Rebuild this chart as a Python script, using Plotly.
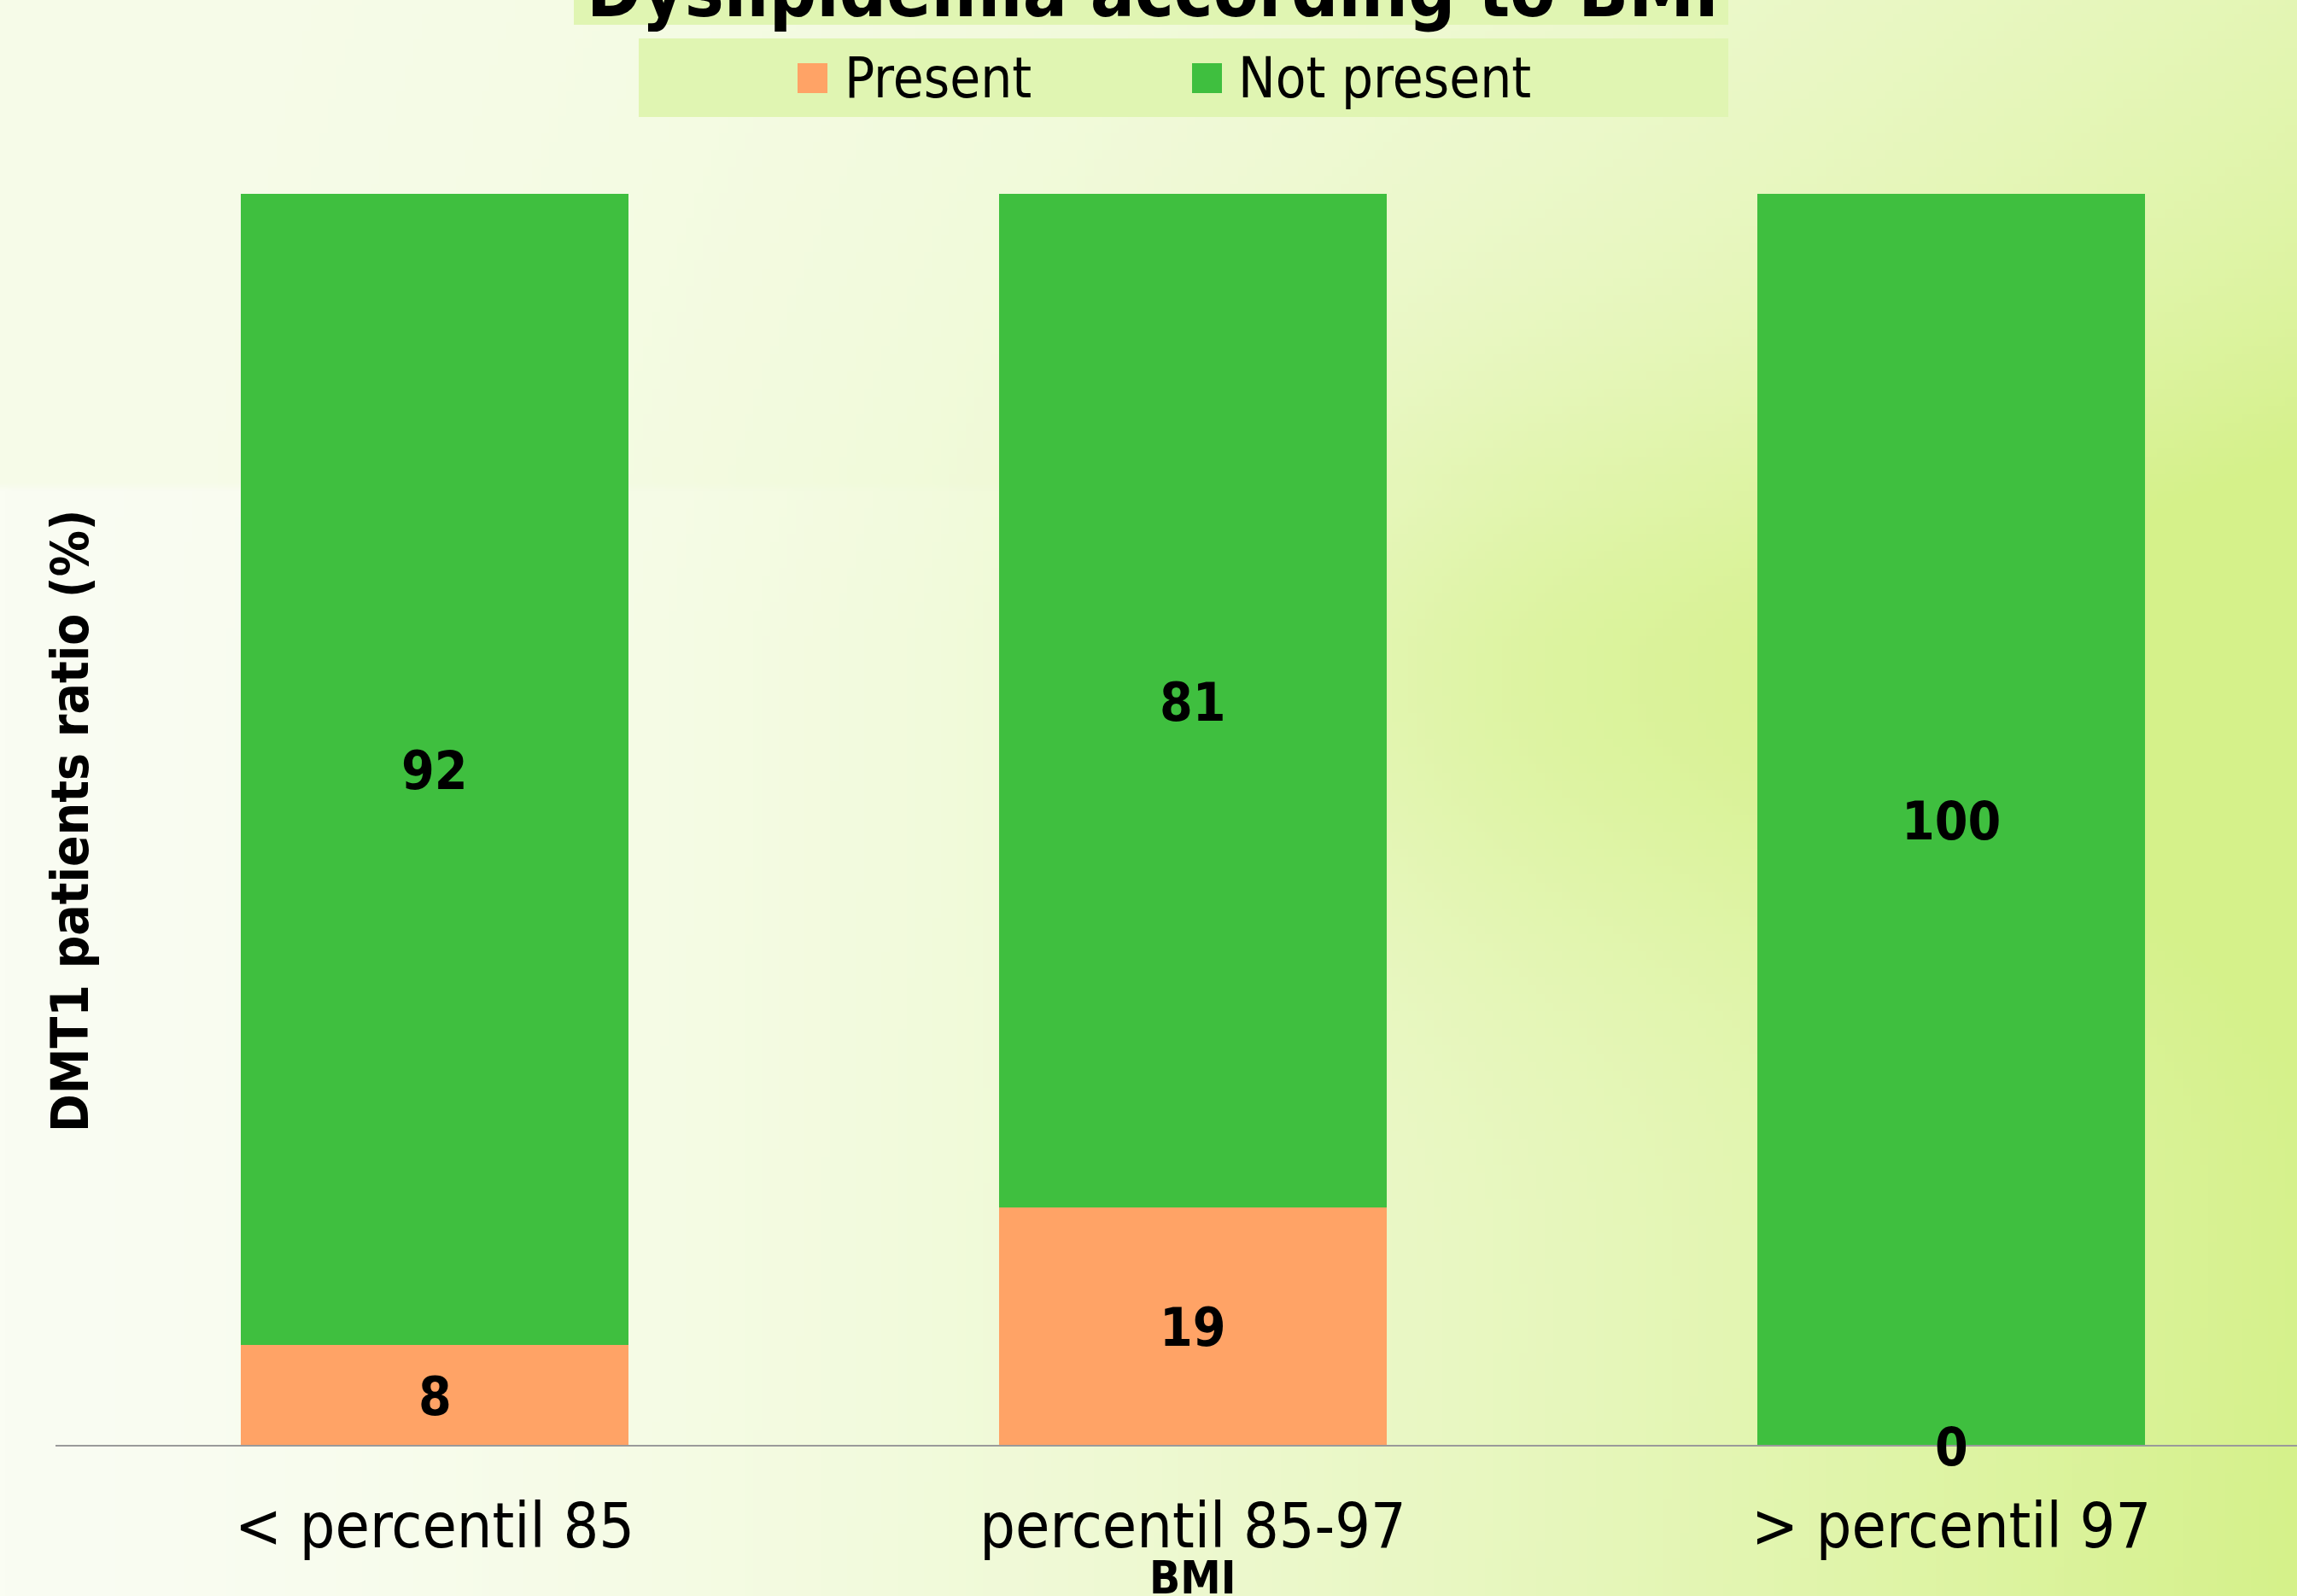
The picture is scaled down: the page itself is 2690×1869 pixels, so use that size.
import base64
import struct
import zlib

import numpy as np
import plotly.graph_objects as go

# ---------------- data ----------------
categories = ["< percentil 85", "percentil 85-97", "> percentil 97"]
series_names = ["Present", "Not present"]
present = [8, 19, 0]
not_present = [92, 81, 100]
title_text = "Dyslipidemia according to BMI"
x_title = "BMI"
y_title = "DMT1 patients ratio (%)"

# ---------------- styles ----------------
W, H = 2690, 1869
ML, MR, MT, MB = 65, 0, 227, 177
PW, PH = W - ML - MR, H - MT - MB
FONT = "DejaVu Sans Condensed, Liberation Sans Narrow, DejaVu Sans, sans-serif"
C_PRESENT = "#FFA366"
C_NOT = "#3FBF3F"
C_BOX = "#E0F5B2"


def px_x(px):
    return (px - ML) / PW


def px_y(py):
    return (H - MB - py) / PH


# ---------------- background gradient (PNG data URI) ----------------
def make_bg():
    w, h = 270, 187
    u = np.linspace(0, 1, w)[None, :]
    v = np.linspace(0, 1, h)[:, None]
    base = 0.85 * u ** 1.5 * (0.7 + 0.3 * np.clip(v / 0.4, 0, 1))
    s = np.clip((u - 0.4) / 0.3, 0, 1)
    s = s * s * (3 - 2 * s)
    blob = 0.3 * np.exp(-((v - 0.42) / 0.18) ** 2) * s
    corner = 0.15 * u ** 3 * v
    seam = 0.10 * (1 - u) ** 2 * (v < 0.305)
    t = np.clip(base + blob + corner + seam, 0, 1)
    light = np.array([250, 253, 243], dtype=float)
    dark = np.array([213, 241, 138], dtype=float)
    img = light[None, None, :] + (dark - light)[None, None, :] * t[:, :, None]
    img = np.clip(img, 0, 255).astype(np.uint8)
    raw = b"".join(b"\x00" + img[r].tobytes() for r in range(h))

    def chunk(tag, data):
        c = struct.pack(">I", len(data)) + tag + data
        return c + struct.pack(">I", zlib.crc32(tag + data) & 0xFFFFFFFF)

    png = b"\x89PNG\r\n\x1a\n"
    png += chunk(b"IHDR", struct.pack(">IIBBBBB", w, h, 8, 2, 0, 0, 0))
    png += chunk(b"IDAT", zlib.compress(raw, 9))
    png += chunk(b"IEND", b"")
    return "data:image/png;base64," + base64.b64encode(png).decode()


fig = go.Figure()

fig.add_trace(go.Bar(x=categories, y=present, name=series_names[0],
                     marker=dict(color=C_PRESENT, line=dict(width=0)),
                     showlegend=False, hoverinfo="x+y+name"))
fig.add_trace(go.Bar(x=categories, y=not_present, name=series_names[1],
                     marker=dict(color=C_NOT, line=dict(width=0)),
                     showlegend=False, hoverinfo="x+y+name"))

shapes = []
annotations = []

# data labels centred in each segment (positions derived from the data)
lab_x = categories + categories
lab_y = [p / 2 for p in present] + [p + n / 2 for p, n in zip(present, not_present)]
lab_t = [str(p) for p in present] + [str(n) for n in not_present]
for lx, ly, lt in zip(lab_x, lab_y, lab_t):
    annotations.append(dict(text=lt, x=lx, y=ly, xref="x", yref="y",
                            xanchor="center", yanchor="middle", yshift=-2,
                            showarrow=False,
                            font=dict(family=FONT, size=62, color="black", weight="bold")))

# title box + title
shapes.append(dict(type="rect", xref="paper", yref="paper",
                   x0=px_x(672), x1=px_x(2024), y0=px_y(29), y1=px_y(-20),
                   fillcolor=C_BOX, line=dict(width=0), layer="below"))
annotations.append(dict(text=title_text, xref="paper", yref="paper",
                        x=px_x(1350), y=px_y(-11), xanchor="center", yanchor="middle",
                        showarrow=False,
                        font=dict(family=FONT, size=86, color="black", weight="bold")))

# legend box + entries
shapes.append(dict(type="rect", xref="paper", yref="paper",
                   x0=px_x(748), x1=px_x(2024), y0=px_y(137), y1=px_y(45),
                   fillcolor=C_BOX, line=dict(width=0), layer="below"))
leg_sq_x = [934, 1396]
leg_txt_x = [987, 1448]
leg_cols = [C_PRESENT, C_NOT]
for name, sx, tx, col in zip(series_names, leg_sq_x, leg_txt_x, leg_cols):
    shapes.append(dict(type="rect", xref="paper", yref="paper",
                       x0=px_x(sx), x1=px_x(sx + 35), y0=px_y(109), y1=px_y(74),
                       fillcolor=col, line=dict(width=0)))
    annotations.append(dict(text=name, xref="paper", yref="paper",
                            x=px_x(tx), y=px_y(91), xanchor="left", yanchor="middle",
                            showarrow=False,
                            font=dict(family=FONT, size=65, color="black")))

# axis titles
annotations.append(dict(text=y_title, xref="paper", yref="paper",
                        x=px_x(82), y=px_y(961), xanchor="center", yanchor="middle",
                        textangle=-90, showarrow=False,
                        font=dict(family=FONT, size=60, color="black", weight="bold")))
annotations.append(dict(text=x_title, xref="x", yref="paper",
                        x=categories[1], y=px_y(1815), xanchor="center", yanchor="top",
                        showarrow=False,
                        font=dict(family=FONT, size=53, color="black", weight="bold")))

fig.update_layout(
    width=W, height=H,
    margin=dict(l=ML, r=MR, t=MT, b=MB, pad=0),
    paper_bgcolor="#F4FAE4",
    plot_bgcolor="rgba(0,0,0,0)",
    barmode="stack",
    bargap=0.488,
    showlegend=False,
    font=dict(family=FONT, color="black"),
    shapes=shapes,
    annotations=annotations,
    images=[dict(source=make_bg(), xref="paper", yref="paper",
                 x=px_x(0), y=px_y(0), sizex=W / PW, sizey=H / PH,
                 xanchor="left", yanchor="top", sizing="stretch",
                 layer="below", opacity=1)],
)
fig.update_xaxes(type="category", categoryorder="array", categoryarray=categories,
                 range=[-0.5, 2.456], showline=True, linecolor="#9A9A9A", linewidth=2,
                 showgrid=False, zeroline=False, ticks="outside", ticklen=30,
                 tickcolor="rgba(0,0,0,0)",
                 tickfont=dict(family=FONT, size=73, color="black"))
fig.update_yaxes(range=[0, 100], showgrid=False, zeroline=False, showline=False,
                 showticklabels=False, ticks="")

fig.write_html("out.html")
